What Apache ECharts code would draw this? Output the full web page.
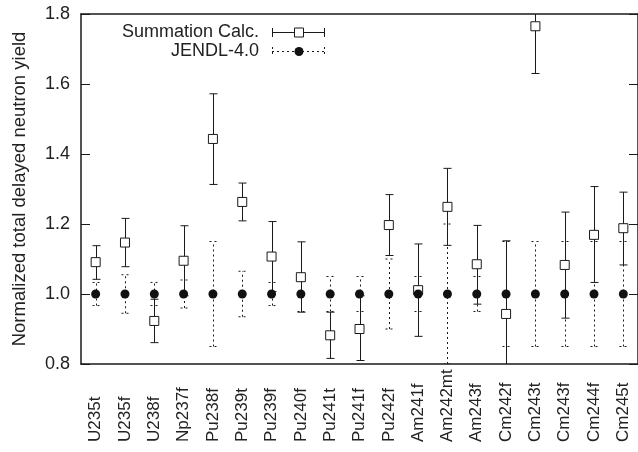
<!DOCTYPE html>
<html>
<head>
<meta charset="utf-8">
<script src="https://cdn.jsdelivr.net/npm/echarts@6/dist/echarts.min.js"></script>
<style>
  html, body { margin: 0; padding: 0; background: #fff; }
  #chart { width: 638px; height: 452px; }
</style>
</head>
<body>
<div id="chart"></div>
<script>
// categories (nuclide + spectrum)
var categories = ['U235t', 'U235f', 'U238f', 'Np237f', 'Pu238f', 'Pu239t', 'Pu239f', 'Pu240f', 'Pu241t', 'Pu241f',
  'Pu242f', 'Am241f', 'Am242mt', 'Am243f', 'Cm242f', 'Cm243t', 'Cm243f', 'Cm244f', 'Cm245t'];

// Summation Calc. (normalized to JENDL-4.0)
var sumValue = [1.091, 1.147, 0.923, 1.095, 1.443, 1.263, 1.107, 1.048, 0.882, 0.900,
  1.197, 1.011, 1.249, 1.085, 0.943, 1.765, 1.083, 1.169, 1.188];
var sumLow = [1.042, 1.078, 0.861, 0.995, 1.313, 1.209, 1.007, 0.948, 0.816, 0.810,
  1.110, 0.879, 1.139, 0.971, 0.734, 1.630, 0.931, 1.033, 1.083];
var sumHigh = [1.138, 1.216, 0.985, 1.195, 1.572, 1.317, 1.207, 1.149, 0.948, 0.995,
  1.284, 1.143, 1.359, 1.196, 1.152, 1.900, 1.234, 1.307, 1.291];

// JENDL-4.0
var jendlValue = [1, 1, 1, 1, 1, 1, 1, 1, 1, 1, 1, 1, 1, 1, 1, 1, 1, 1, 1];
var jendlLow = [0.967, 0.945, 0.967, 0.960, 0.850, 0.935, 0.967, 0.950, 0.950, 0.950,
  0.900, 0.950, 0.800, 0.950, 0.850, 0.850, 0.850, 0.850, 0.850];
var jendlHigh = [1.033, 1.055, 1.033, 1.040, 1.150, 1.065, 1.033, 1.050, 1.050, 1.050,
  1.100, 1.050, 1.200, 1.050, 1.150, 1.150, 1.150, 1.150, 1.150];

var FONT = "'Liberation Sans', Arial, Helvetica, sans-serif";
var TXT = '#222';
var INK = '#1a1a1a';

function errRender(dash) {
  return function (params, api) {
    var lo = api.coord([api.value(0), api.value(1)]);
    var hi = api.coord([api.value(0), api.value(2)]);
    var cx = Math.round(lo[0]) + 0.5;
    var st = { stroke: INK, lineWidth: 1, lineDash: dash };
    return {
      type: 'group',
      children: [
        { type: 'line', shape: { x1: cx, y1: lo[1], x2: cx, y2: hi[1] }, style: st },
        { type: 'line', shape: { x1: cx - 4, y1: lo[1], x2: cx + 4, y2: lo[1] }, style: st },
        { type: 'line', shape: { x1: cx - 4, y1: hi[1], x2: cx + 4, y2: hi[1] }, style: st }
      ]
    };
  };
}

var chart = echarts.init(document.getElementById('chart'));

var axisLine = { show: true, lineStyle: { color: INK, width: 1.5 } };

chart.setOption({
  animation: false,
  backgroundColor: '#fff',
  grid: { left: 81, top: 14, width: 558, height: 350 },
  xAxis: [{
    type: 'category',
    position: 'bottom',
    data: categories,
    axisLine: axisLine,
    axisTick: { inside: true, length: 6, alignWithLabel: true, lineStyle: { color: INK } },
    axisLabel: {
      rotate: 90, align: 'left', verticalAlign: 'middle', margin: 78, interval: 0,
      fontFamily: FONT, fontSize: 17, color: TXT
    },
    splitLine: { show: false }
  }, {
    type: 'category',
    position: 'top',
    data: categories,
    axisLine: axisLine,
    axisTick: { inside: true, length: 6, alignWithLabel: true, lineStyle: { color: INK } },
    axisLabel: { show: false },
    splitLine: { show: false }
  }],
  yAxis: [{
    type: 'value',
    position: 'left',
    min: 0.8, max: 1.8, interval: 0.2,
    name: 'Normalized total delayed neutron yield',
    nameLocation: 'middle',
    nameGap: 52,
    nameTextStyle: { fontFamily: FONT, fontSize: 18.5, color: TXT },
    axisLine: axisLine,
    axisTick: { show: true, inside: true, length: 9, lineStyle: { color: INK } },
    axisLabel: {
      margin: 11, fontFamily: FONT, fontSize: 18, color: TXT,
      formatter: function (v) { return v.toFixed(1); }
    },
    splitLine: { show: false }
  }, {
    type: 'value',
    position: 'right',
    min: 0.8, max: 1.8, interval: 0.2,
    axisLine: axisLine,
    axisTick: { show: true, inside: true, length: 9, lineStyle: { color: INK } },
    axisLabel: { show: false },
    splitLine: { show: false }
  }],
  graphic: [
    { type: 'text', x: 259, y: 32, style: { text: 'Summation Calc.', align: 'right', verticalAlign: 'middle', font: '18px ' + FONT, fill: TXT } },
    { type: 'text', x: 259, y: 51, style: { text: 'JENDL-4.0', align: 'right', verticalAlign: 'middle', font: '18px ' + FONT, fill: TXT } },
    { type: 'line', shape: { x1: 272, y1: 32.5, x2: 325, y2: 32.5 }, style: { stroke: INK, lineWidth: 1 } },
    { type: 'line', shape: { x1: 272.5, y1: 28, x2: 272.5, y2: 37 }, style: { stroke: INK, lineWidth: 1 } },
    { type: 'line', shape: { x1: 324.5, y1: 28, x2: 324.5, y2: 37 }, style: { stroke: INK, lineWidth: 1 } },
    { type: 'rect', shape: { x: 294.5, y: 28, width: 9, height: 9 }, style: { fill: '#fff', stroke: INK, lineWidth: 1 } },
    { type: 'line', shape: { x1: 272, y1: 51.5, x2: 325, y2: 51.5 }, style: { stroke: INK, lineWidth: 1, lineDash: [2, 3] } },
    { type: 'line', shape: { x1: 272.5, y1: 47, x2: 272.5, y2: 56 }, style: { stroke: INK, lineWidth: 1, lineDash: [2, 3] } },
    { type: 'line', shape: { x1: 324.5, y1: 47, x2: 324.5, y2: 56 }, style: { stroke: INK, lineWidth: 1, lineDash: [2, 3] } },
    { type: 'circle', shape: { cx: 299, cy: 51.5, r: 4.5 }, style: { fill: '#111' } }
  ],
  series: [{
    name: 'Summation Calc. error',
    type: 'custom',
    clip: true,
    renderItem: errRender(null),
    encode: { x: 0, y: [1, 2] },
    data: sumLow.map(function (lo, i) { return [i, lo, sumHigh[i]]; }),
    z: 2
  }, {
    name: 'JENDL-4.0 error',
    type: 'custom',
    clip: true,
    renderItem: errRender([2, 3]),
    encode: { x: 0, y: [1, 2] },
    data: jendlLow.map(function (lo, i) { return [i, lo, jendlHigh[i]]; }),
    z: 2
  }, {
    name: 'Summation Calc.',
    type: 'scatter',
    symbol: 'rect',
    symbolSize: 9,
    itemStyle: { color: '#fff', borderColor: INK, borderWidth: 1, opacity: 1 },
    data: sumValue.map(function (v, i) { return [i, v]; }),
    z: 3
  }, {
    name: 'JENDL-4.0',
    type: 'scatter',
    symbol: 'circle',
    symbolSize: 9,
    itemStyle: { color: '#111', opacity: 1 },
    data: jendlValue.map(function (v, i) { return [i, v]; }),
    z: 4
  }]
});
</script>
</body>
</html>
